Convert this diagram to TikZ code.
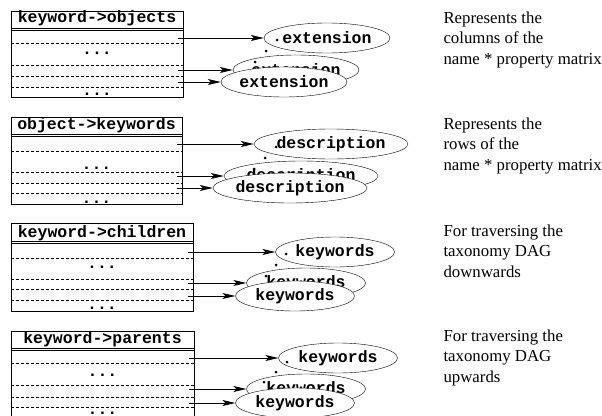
\documentclass[tikz,border=0pt]{standalone}
\usepackage{fontspec}
\setmainfont{Liberation Serif}
\setmonofont{Liberation Mono}
\usetikzlibrary{shapes.geometric,arrows.meta}

\begin{document}
\begin{tikzpicture}[x=1pt, y=-1pt,
	tt/.style={font=\fontsize{16.5}{18}\selectfont\ttfamily\bfseries},
	slot/.style={ellipse, draw, fill=white, tt, inner sep=0pt, minimum width=119pt, minimum height=30pt},
	row/.style={dash pattern=on 3pt off 2pt, line width=.6pt},
	link/.style={-{Stealth[length=13pt, width=6pt, inset=3pt]}, line width=.8pt},
	note/.style={anchor=base west, align=left, font=\fontsize{16.8}{20.5}\selectfont}]
	\useasboundingbox (0,0) rectangle (602,415);
	% keyword->objects
	\draw[line width=1pt] (11,11) rectangle (183,97);
	\node[tt, anchor=base] (t1) at (97,22) {keyword->objects};
	\draw (11,28) -- (183,28); \draw (11,30) -- (183,30);
	\draw[row] (11,43) -- (183,43); \draw[row] (11,65) -- (183,65);
	\draw[row] (11,76) -- (183,76); \draw[row] (11,87) -- (183,87);
	\node[tt, anchor=base] (d11) at (97,54) {...};
	\node[tt, anchor=base] (d12) at (97,95) {...};
	\node[slot] (e11) at (327,38) {extension};
	\node[slot] (e12) at (296,70) {extension};
	\node[slot] (e13) at (284,82) {extension};
	\coordinate (a11) at (178,38); \coordinate (a12) at (178,70); \coordinate (a13) at (178,82);
	\draw[link] (a11) -- (e11); \draw[link] (a12) -- (e12); \draw[link] (a13) -- (e13);
	\fill (277,40) circle (1.5); \fill (266,51) circle (1.5); \fill (255,62) circle (1.5);
	\node[note] (n1) at (440,64) {Represents the\\columns of the\\name * property matrix};
	% object->keywords
	\draw[line width=1pt] (11,117) rectangle (182,204);
	\node[tt, anchor=base] (t2) at (96.5,129) {object->keywords};
	\draw (11,134) -- (182,134); \draw (11,136) -- (182,136);
	\draw[row] (11,151) -- (182,151); \draw[row] (11,172) -- (182,172);
	\draw[row] (11,183) -- (182,183); \draw[row] (11,193) -- (182,193);
	\node[tt, anchor=base] (d21) at (96.5,169) {...};
	\node[tt, anchor=base] (d22) at (96.5,203) {...};
	\node[slot, minimum width=126pt] (e21) at (331,144) {description};
	\node[slot, minimum width=126pt] (e22) at (301,176) {description};
	\node[slot, minimum width=128pt] (e23) at (290,188) {description};
	\coordinate (a21) at (177,144); \coordinate (a22) at (177,176); \coordinate (a23) at (177,188);
	\draw[link] (a21) -- (e21); \draw[link] (a22) -- (e22); \draw[link] (a23) -- (e23);
	\fill (276,147) circle (1.5); \fill (265,158) circle (1.5); \fill (254,169) circle (1.5);
	\node[note] (n2) at (440,170) {Represents the\\rows of the\\name * property matrix};
	% keyword->children
	\draw[line width=1pt] (11,223) rectangle (193,311);
	\node[tt, anchor=base] (t3) at (102,237) {keyword->children};
	\draw (11,241) -- (193,241); \draw (11,243) -- (193,243);
	\draw[row] (11,258) -- (193,258); \draw[row] (11,279) -- (193,279);
	\draw[row] (11,289) -- (193,289); \draw[row] (11,300) -- (193,300);
	\node[tt, anchor=base] (d31) at (102,268) {...};
	\node[tt, anchor=base] (d32) at (102,309) {...};
	\node[slot] (e31) at (335,252) {keywords};
	\node[slot] (e32) at (306,283) {keywords};
	\node[slot] (e33) at (295,296) {keywords};
	\coordinate (a31) at (188,252); \coordinate (a32) at (188,283); \coordinate (a33) at (188,296);
	\draw[link] (a31) -- (e31); \draw[link] (a32) -- (e32); \draw[link] (a33) -- (e33);
	\fill (286,254) circle (1.5); \fill (276,265) circle (1.5); \fill (266,276) circle (1.5);
	\node[note] (n3) at (440,277) {For traversing the\\taxonomy DAG\\downwards};
	% keyword->parents
	\draw[line width=1pt] (11,331) rectangle (194,418);
	\node[tt, anchor=base] (t4) at (102.5,343) {keyword->parents};
	\draw (11,348) -- (194,348); \draw (11,350) -- (194,350);
	\draw[row] (11,363) -- (194,363); \draw[row] (11,385) -- (194,385);
	\draw[row] (11,397) -- (194,397); \draw[row] (11,407) -- (194,407);
	\node[tt, anchor=base] (d41) at (102.5,376) {...};
	\node[tt, anchor=base] (d42) at (102.5,414) {...};
	\node[slot] (e41) at (338,358) {keywords};
	\node[slot] (e42) at (306,389) {keywords};
	\node[slot] (e43) at (295,403) {keywords};
	\coordinate (a41) at (189,358); \coordinate (a42) at (189,389); \coordinate (a43) at (189,403);
	\draw[link] (a41) -- (e41); \draw[link] (a42) -- (e42); \draw[link] (a43) -- (e43);
	\fill (287,362) circle (1.5); \fill (276,372) circle (1.5); \fill (264,382) circle (1.5);
	\node[note] (n4) at (440,382) {For traversing the\\taxonomy DAG\\upwards};
\end{tikzpicture}
\end{document}
